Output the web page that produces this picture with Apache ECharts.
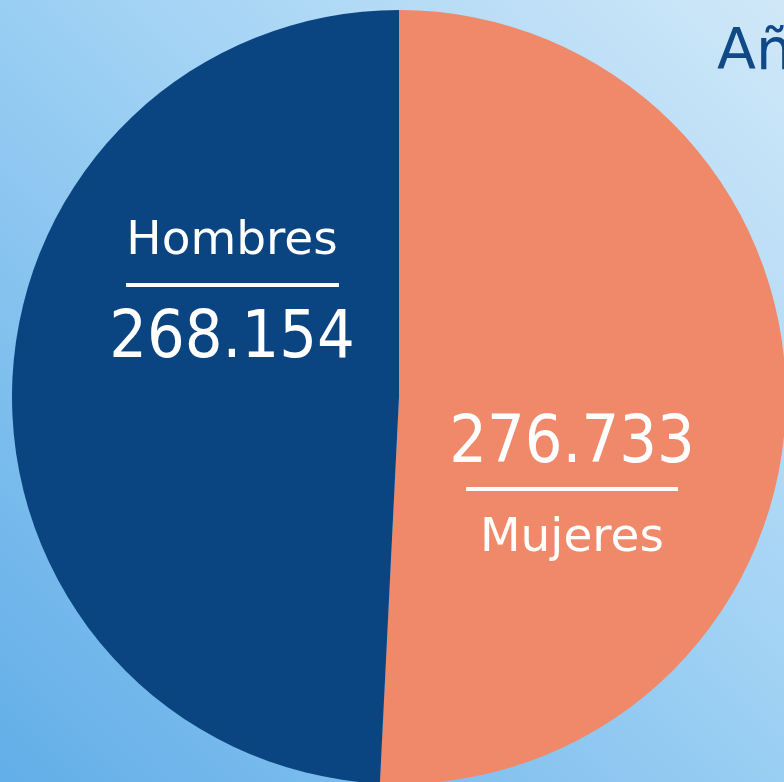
<!DOCTYPE html>
<html>
<head>
<meta charset="utf-8">
<style>
  html, body { margin: 0; padding: 0; }
  #chart {
    width: 784px; height: 782px;
    background: linear-gradient(225deg, #d0e8f8 0%, #9fd1f4 45%, #62aee8 100%);
  }
</style>
<script src="https://cdn.jsdelivr.net/npm/echarts@6/dist/echarts.min.js"></script>
</head>
<body>
<div id="chart"></div>
<script>
// datos
var categorias = ["Mujeres", "Hombres"];
var valores = [276733, 268154];
var etiquetas = ["276.733", "268.154"];
var colores = ["#f0886a", "#0b4581"];
var titulo = "Año";

var fuenteNum = "'DejaVu Sans Condensed', 'DejaVu Sans', sans-serif";
var fuenteTxt = "'DejaVu Sans', sans-serif";

var chart = echarts.init(document.getElementById("chart"));

var option = {
  backgroundColor: "transparent",
  animation: false,
  graphic: [
    // titulo cortado arriba a la derecha
    {
      type: "text", z: 100,
      left: 717, top: 26,
      style: { text: titulo, fill: "#0f4a86", font: "57px " + fuenteTxt }
    },
    // Hombres
    {
      type: "text", z: 100,
      style: { text: categorias[1], x: 232, y: 242, textAlign: "center", textVerticalAlign: "middle", fill: "#fff", font: "47px " + fuenteTxt }
    },
    {
      type: "rect", z: 100,
      shape: { x: 126, y: 283, width: 213, height: 4 },
      style: { fill: "#fff" }
    },
    {
      type: "text", z: 100,
      style: { text: etiquetas[1], x: 232, y: 340, textAlign: "center", textVerticalAlign: "middle", fill: "#fff", font: "66px " + fuenteNum }
    },
    // Mujeres
    {
      type: "text", z: 100,
      style: { text: etiquetas[0], x: 572, y: 445, textAlign: "center", textVerticalAlign: "middle", fill: "#fff", font: "66px " + fuenteNum }
    },
    {
      type: "rect", z: 100,
      shape: { x: 466, y: 487, width: 212, height: 4 },
      style: { fill: "#fff" }
    },
    {
      type: "text", z: 100,
      style: { text: categorias[0], x: 572, y: 539, textAlign: "center", textVerticalAlign: "middle", fill: "#fff", font: "47px " + fuenteTxt }
    }
  ],
  series: [
    {
      type: "pie",
      z: 2,
      center: [399, 397],
      radius: 387,
      startAngle: 90,
      clockwise: true,
      label: { show: false },
      labelLine: { show: false },
      emphasis: { disabled: true },
      itemStyle: { borderWidth: 0 },
      data: categorias.map(function (c, i) {
        return { name: c, value: valores[i], itemStyle: { color: colores[i] } };
      })
    }
  ]
};

chart.setOption(option);
</script>
</body>
</html>
